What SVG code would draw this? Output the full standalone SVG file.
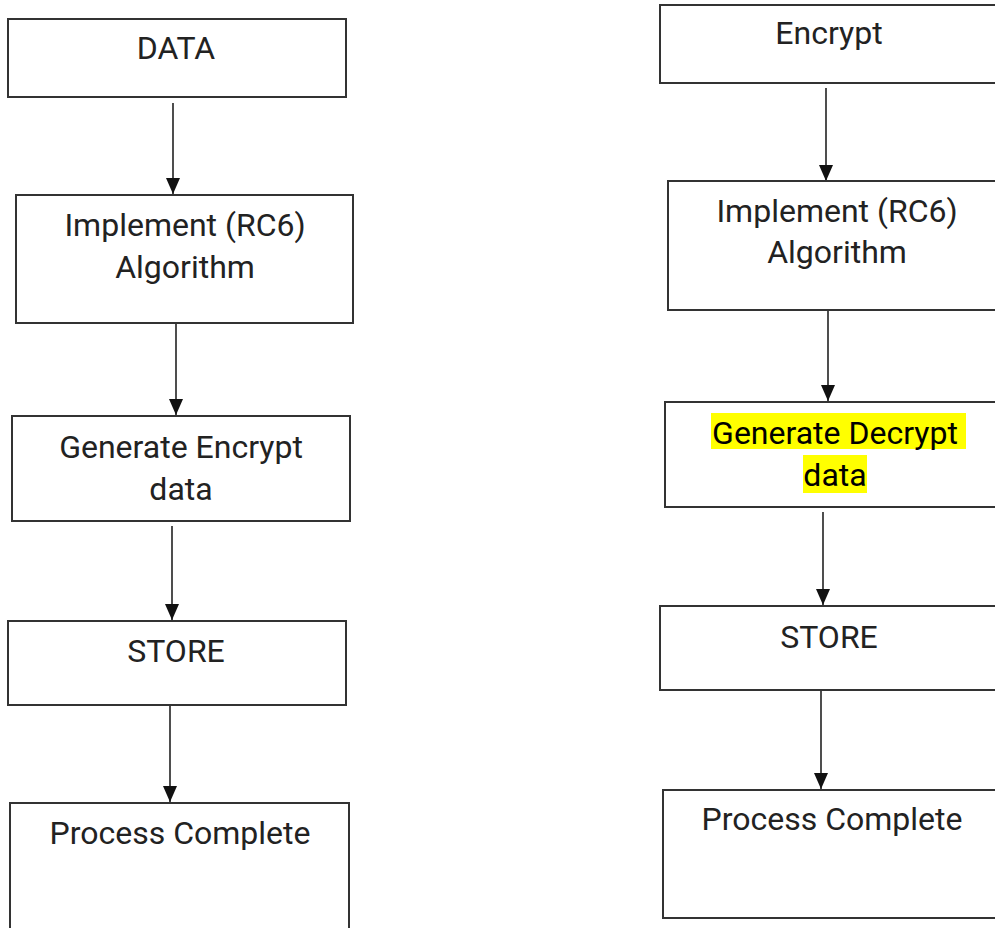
<svg xmlns="http://www.w3.org/2000/svg" width="995" height="928" viewBox="0 0 995 928">
<defs>
<marker id="ah" viewBox="0 0 16 14" refX="16" refY="7" markerWidth="16" markerHeight="14" markerUnits="userSpaceOnUse" orient="auto">
<path d="M0,0 L16,7 L0,14 Z" fill="#111"/>
</marker>
<style>
.box{fill:#fff;stroke:#333;stroke-width:2}
.t{font-family:Roboto,"Liberation Sans",sans-serif;font-size:32px;fill:#222;text-anchor:middle}
.c{stroke:#222;stroke-width:1.6;fill:none;marker-end:url(#ah)}
.hl{fill:#ffff00}
</style>
</defs>
<rect width="995" height="928" fill="#fff"/>
<g id="connectors">
<line class="c" x1="173" y1="103" x2="173" y2="194"/>
<line class="c" x1="176" y1="323" x2="176" y2="415"/>
<line class="c" x1="172" y1="526" x2="172" y2="620"/>
<line class="c" x1="170" y1="705" x2="170" y2="802"/>
<line class="c" x1="826" y1="88" x2="826" y2="181"/>
<line class="c" x1="828" y1="310" x2="828" y2="401"/>
<line class="c" x1="823" y1="512" x2="823" y2="605"/>
<line class="c" x1="821" y1="690" x2="821" y2="789"/>
</g>
<g id="data"><rect class="box" x="8" y="19" width="338" height="78"/><text class="t" x="176" y="59">DATA</text></g>
<g id="impl1"><rect class="box" x="16" y="195" width="337" height="128"/><text class="t" x="185" y="236">Implement (RC6)</text><text class="t" x="185" y="278">Algorithm</text></g>
<g id="genenc"><rect class="box" x="12" y="416" width="338" height="105"/><text class="t" x="181" y="458">Generate Encrypt</text><text class="t" x="181" y="500">data</text></g>
<g id="store1"><rect class="box" x="8" y="621" width="338" height="84"/><text class="t" x="176" y="662">STORE</text></g>
<g id="done1"><rect class="box" x="10" y="803" width="339" height="140"/><text class="t" x="180" y="844">Process Complete</text></g>
<g id="encrypt"><rect class="box" x="660" y="5" width="350" height="78"/><text class="t" x="829" y="44">Encrypt</text></g>
<g id="impl2"><rect class="box" x="668" y="181" width="350" height="129"/><text class="t" x="837" y="222">Implement (RC6)</text><text class="t" x="837" y="263">Algorithm</text></g>
<g id="gendec"><rect class="box" x="665" y="402" width="350" height="105"/><rect class="hl" x="711" y="413" width="255" height="36"/><rect class="hl" x="803" y="455" width="64" height="38"/><text class="t" x="835" y="444" style="fill:#000">Generate Decrypt</text><text class="t" x="835" y="486" style="fill:#000">data</text></g>
<g id="store2"><rect class="box" x="660" y="606" width="350" height="84"/><text class="t" x="829" y="648">STORE</text></g>
<g id="done2"><rect class="box" x="663" y="790" width="350" height="128"/><text class="t" x="832" y="830">Process Complete</text></g>
</svg>
